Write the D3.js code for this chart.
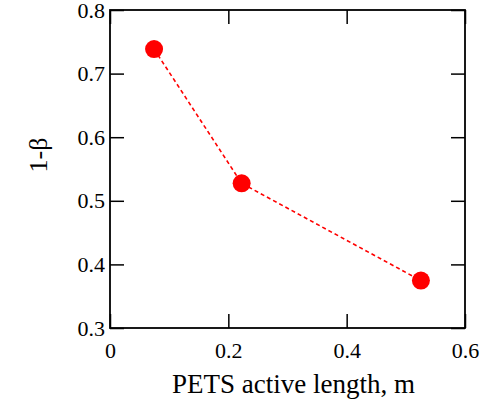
<!DOCTYPE html>
<html>
<head>
<meta charset="utf-8">
<script src="https://cdn.jsdelivr.net/npm/d3@7"></script>
<style>
  html, body { margin: 0; padding: 0; background: #fff; }
  svg { display: block; }
</style>
</head>
<body>
<svg id="chart" width="497" height="401"></svg>
<script>
// Data: fraction (1-β) versus PETS active length
const lengths = [0.0745, 0.2225, 0.5255];
const oneMinusBeta = [0.7385, 0.5275, 0.3745];
const xTicks = [0, 0.2, 0.4, 0.6];
const yTicks = [0.3, 0.4, 0.5, 0.6, 0.7, 0.8];
const xTickLabels = ["0", "0.2", "0.4", "0.6"];
const yTickLabels = ["0.3", "0.4", "0.5", "0.6", "0.7", "0.8"];

const serif = '"Liberation Serif", "Times New Roman", Tinos';
const svg = d3.select("#chart");
const plotL = 110, plotR = 465, plotT = 10, plotB = 328;
const tickLen = 14;

const x = d3.scaleLinear().domain([0, 0.6]).range([plotL, plotR]);
const y = d3.scaleLinear().domain([0.3, 0.8]).range([plotB, plotT]);

// Inward ticks on all four sides
const axisStyle = g => {
  g.attr("font-family", null).attr("font-size", null);
  g.select(".domain").remove();
  g.selectAll(".tick line").attr("stroke", "#000").attr("stroke-width", 1.5);
  g.selectAll(".tick text").attr("fill", "#000")
    .style("font-family", serif).style("font-size", "22px");
};

svg.append("g").attr("transform", `translate(0,${plotB})`)
  .call(d3.axisBottom(x).tickValues(xTicks).tickSize(-tickLen).tickPadding(14)
    .tickFormat((d, i) => xTickLabels[i]))
  .call(axisStyle)
  .call(g => g.selectAll(".tick text").attr("dy", "0.71em"));

svg.append("g").attr("transform", `translate(0,${plotT})`)
  .call(d3.axisTop(x).tickValues(xTicks).tickSize(-tickLen).tickFormat(""))
  .call(axisStyle);

svg.append("g").attr("transform", `translate(${plotL},0)`)
  .call(d3.axisLeft(y).tickValues(yTicks).tickSize(-tickLen).tickPadding(5)
    .tickFormat((d, i) => yTickLabels[i]))
  .call(axisStyle);

svg.append("g").attr("transform", `translate(${plotR},0)`)
  .call(d3.axisRight(y).tickValues(yTicks).tickSize(-tickLen).tickFormat(""))
  .call(axisStyle);

// Frame
svg.append("rect")
  .attr("x", plotL).attr("y", plotT)
  .attr("width", plotR - plotL).attr("height", plotB - plotT)
  .attr("fill", "none").attr("stroke", "#000").attr("stroke-width", 1.8);

// Axis titles
svg.append("text")
  .attr("x", (plotL + plotR) / 2 + 6).attr("y", 393)
  .attr("text-anchor", "middle")
  .style("font-family", serif).style("font-size", "27px")
  .text("PETS active length, m");

svg.append("text")
  .attr("transform", "translate(47,155) rotate(-90)")
  .attr("text-anchor", "middle")
  .style("font-family", serif).style("font-size", "26px")
  .text("1-β");

// Dashed connecting line and markers
const pts = lengths.map((v, i) => [v, oneMinusBeta[i]]);

svg.append("path")
  .datum(pts)
  .attr("fill", "none").attr("stroke", "#ff0000").attr("stroke-width", 1.6)
  .attr("stroke-dasharray", "4,3")
  .attr("d", d3.line().x(d => x(d[0])).y(d => y(d[1])));

svg.selectAll("circle.pt").data(pts).join("circle")
  .attr("class", "pt")
  .attr("cx", d => x(d[0])).attr("cy", d => y(d[1]))
  .attr("r", 9).attr("fill", "#ff0000");
</script>
</body>
</html>
